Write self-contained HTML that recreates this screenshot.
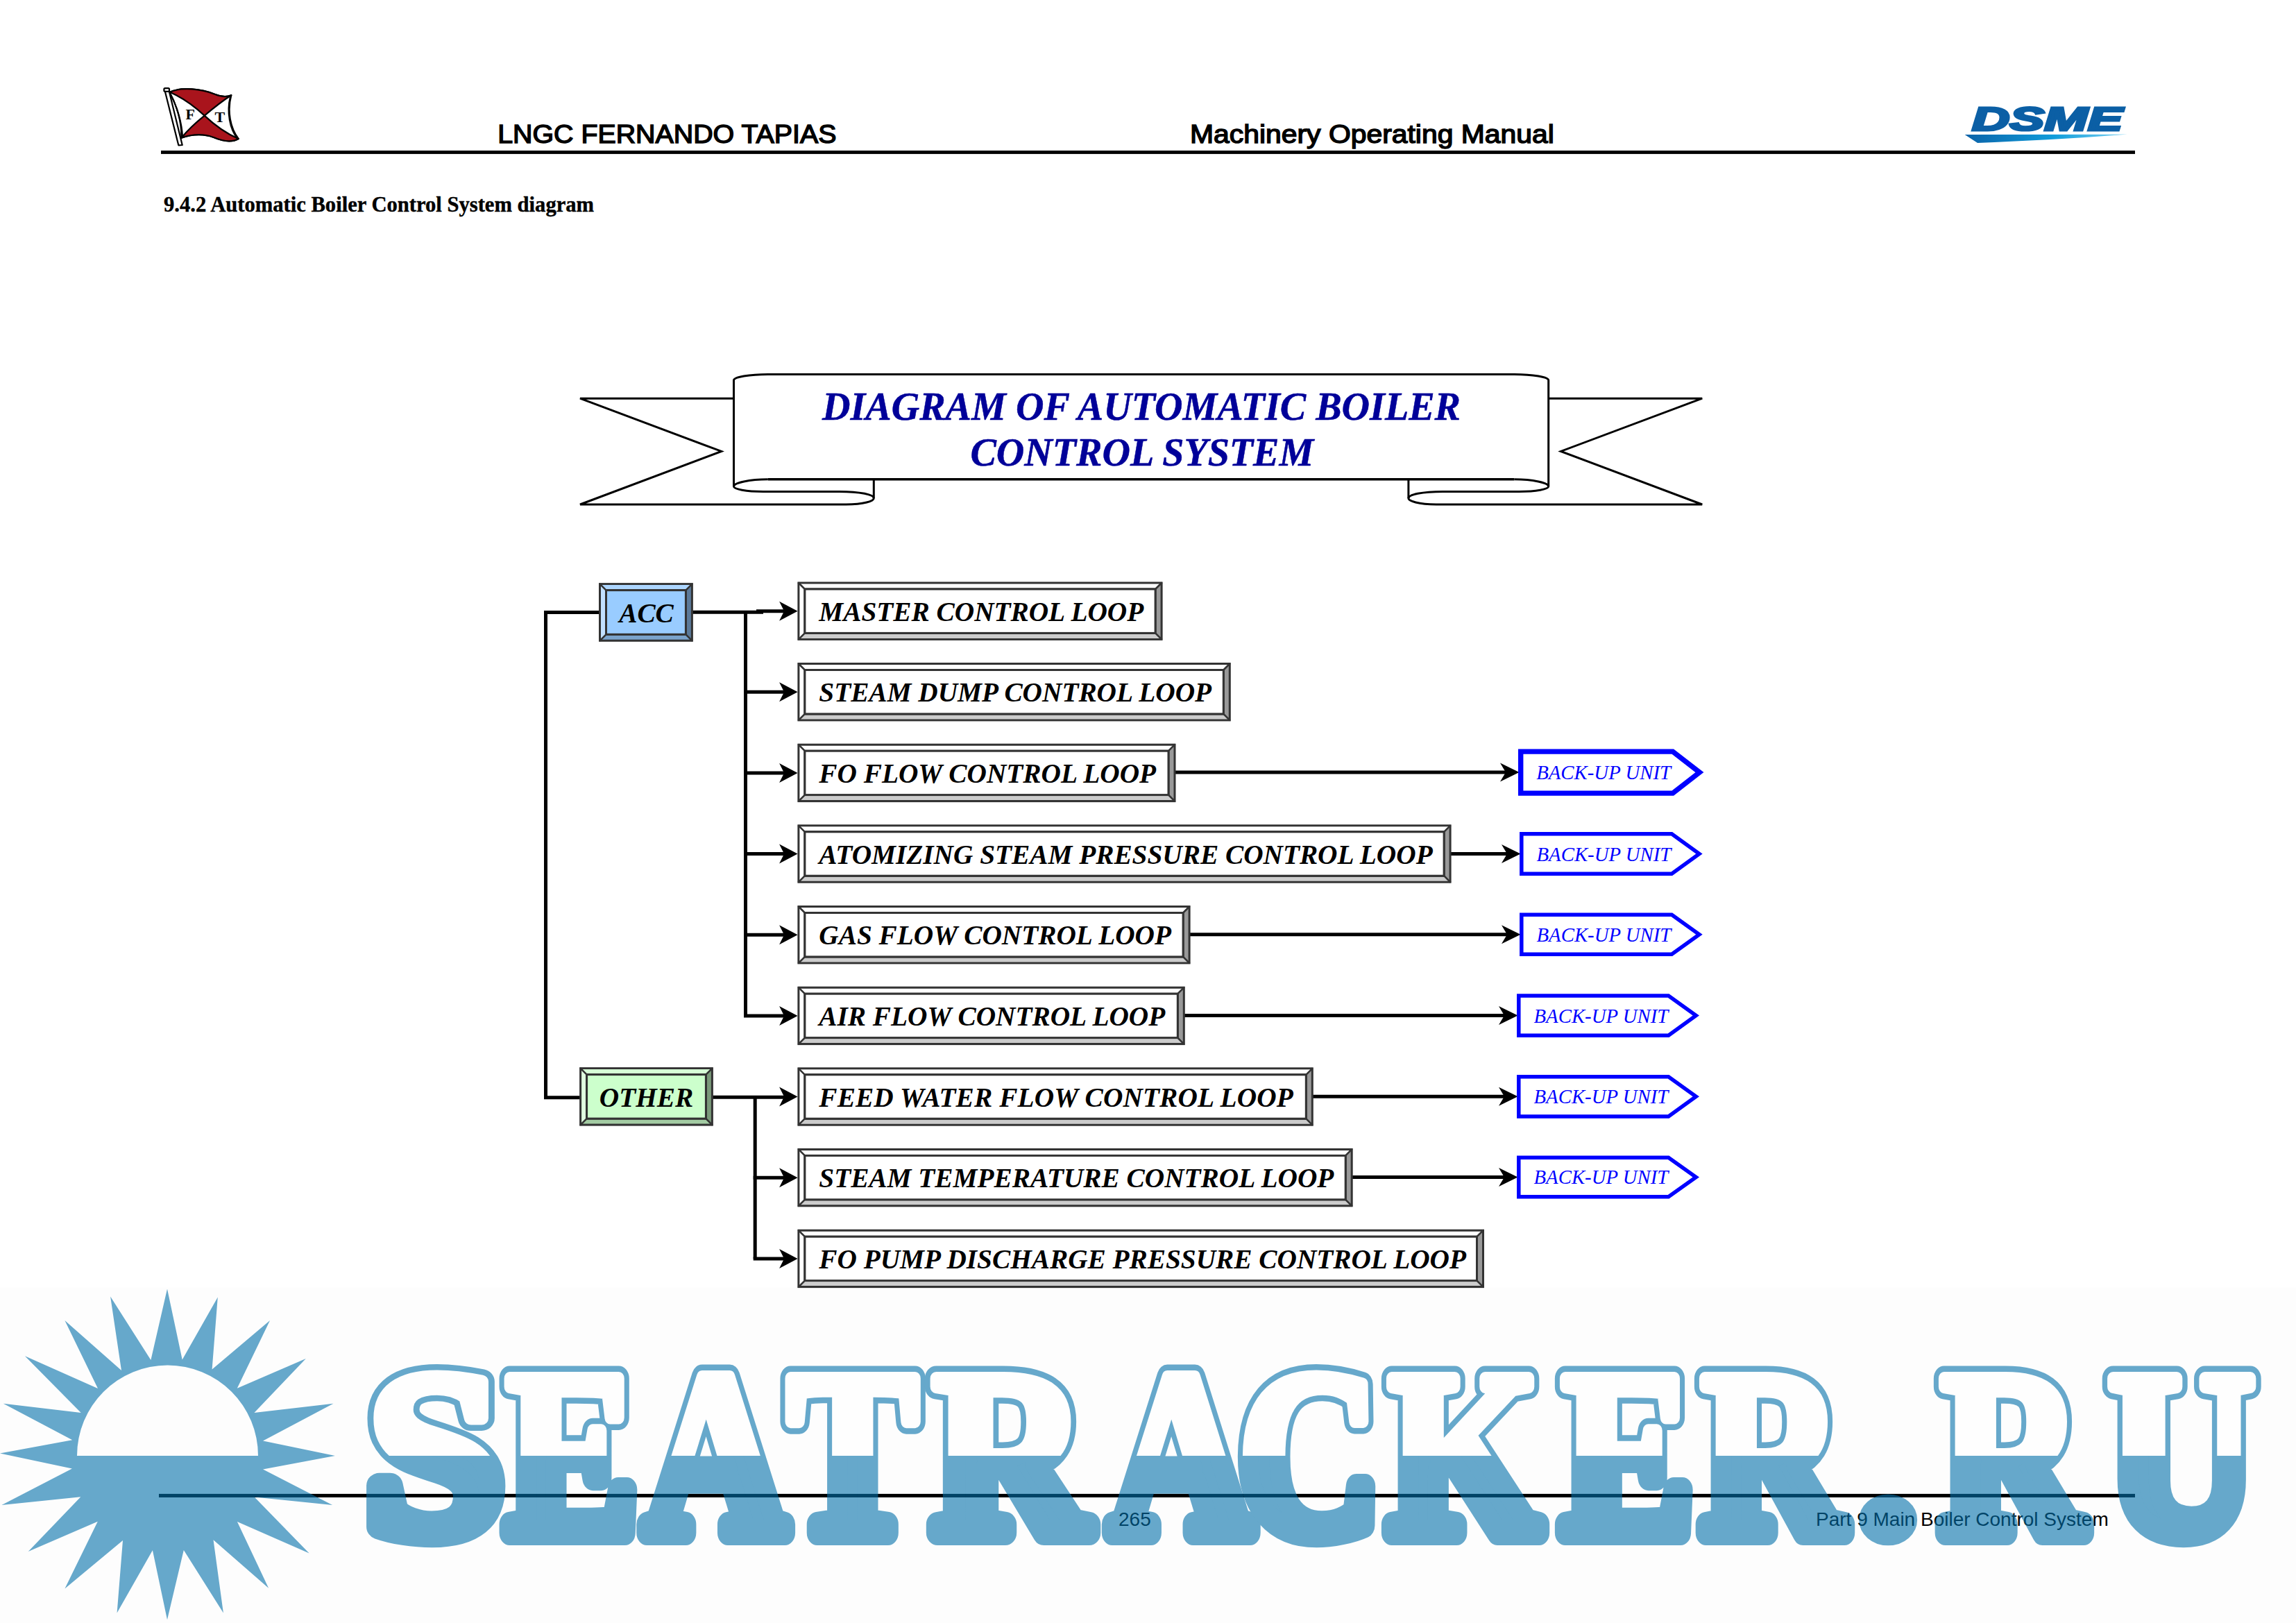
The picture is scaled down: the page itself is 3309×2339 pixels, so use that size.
<!DOCTYPE html>
<html lang="en"><head><meta charset="utf-8"><title>9.4.2 Automatic Boiler Control System diagram</title>
<style>
html,body{margin:0;padding:0;background:#fff}
body{width:3309px;height:2339px;overflow:hidden;position:relative}
svg{position:absolute;left:0;top:0;display:block}
.sans{font-family:"Liberation Sans",Arial,sans-serif}
.serif{font-family:"Liberation Serif","Times New Roman",serif}
.bi{font-family:"Liberation Serif","Times New Roman",serif;font-weight:700;font-style:italic}
.box{font-size:39.3px;fill:#000}
.bu{font-family:"Liberation Serif","Times New Roman",serif;font-style:italic;font-size:28.8px;fill:#0000ff}
.wm{font-family:"Liberation Serif","DejaVu Serif",serif;font-weight:700}
</style></head><body>
<svg width="3309" height="2339" viewBox="0 0 3309 2339">
<defs>
<linearGradient id="swoosh" x1="0" y1="0" x2="1" y2="0">
<stop offset="0" stop-color="#0b62a8"/><stop offset="0.55" stop-color="#0f9ddb"/><stop offset="1" stop-color="#7fd3f3"/>
</linearGradient>
</defs>
<rect x="0" y="0" width="3309" height="2339" fill="#fff"/>
<rect x="0" y="1855.5" width="3309" height="484" fill="#fdfdfd"/>

<g id="header">
<rect x="232" y="217" width="2845" height="4.9" fill="#000"/>
<text class="sans" x="717.2" y="206.4" font-size="37.8" fill="#000" stroke="#000" stroke-width="1.5" textLength="488.2" lengthAdjust="spacingAndGlyphs">LNGC FERNANDO TAPIAS</text>
<text class="sans" x="1715" y="206.4" font-size="37.8" fill="#000" stroke="#000" stroke-width="1.5" textLength="524.8" lengthAdjust="spacingAndGlyphs">Machinery Operating Manual</text>
<text class="serif" x="236" y="305" font-size="30.6" font-weight="700" fill="#000" stroke="#000" stroke-width="0.4">9.4.2 Automatic Boiler Control System diagram</text>
<g id="flag" stroke="#000" stroke-width="2.2" stroke-linejoin="round" fill="#fff">
<path d="M244.4,132.7 C262,125 290,128 310,136 C320,140 327,140 333.3,137.2 C327,160 332,185 343.7,200 C335,205 322,204 308,198 C292,192 275,194 261.4,198.7 C262,175 254,150 244.4,132.7 Z" fill="#fff"/>
<path d="M244.4,132.7 C262,125 290,128 310,136 C320,140 327,140 333.3,137.2 C318,147 306,157 294.7,166.6 C280,153 262,140 244.4,132.7 Z" fill="#a9141c"/>
<path d="M261.4,198.7 C275,194 292,192 308,198 C322,204 335,205 343.7,200 C325,192 309,180 294.7,166.6 C283,176 271,187 261.4,198.7 Z" fill="#a9141c"/>
<path d="M237.9,132 L243.6,131 L262.7,209 L257.3,209.3 Z" fill="#fff"/>
<rect x="236.4" y="127.2" width="7.6" height="4.6" rx="1.5" fill="#fff"/>
<path d="M246,137 C256,155 262,178 263,197" fill="none"/>
<path d="M331.5,139.5 C326,162 331,186 341.5,199.5" fill="none" stroke-width="1.4"/>
</g>
<text class="serif" x="267.6" y="171.9" font-size="22" font-weight="700" fill="#000">F</text>
<text class="serif" x="309.6" y="176.4" font-size="22" font-weight="700" fill="#000">T</text>

<g id="dsme">
<text class="sans" transform="translate(2842,188) scale(1.565,1)" font-size="48" font-weight="700" font-style="italic" fill="#0b5fa5" stroke="#0b5fa5" stroke-width="3.2" stroke-linejoin="miter">DSME</text>
<path d="M2831.7,194 L3066,193.6 C3000,199 2920,203.5 2850,206 Z" fill="url(#swoosh)"/>
</g>
</g>
<g id="banner" fill="none" stroke="#000" stroke-width="3">
<path d="M1057.5,574.2 L836.0,574.2 L1039.7,650.4 L836.0,727 L1219.3,727 C1245.0,727 1259.3,722 1259.3,717.9 C1259.3,713 1240.0,708.4 1209.8,708.4 L1100.0,708.4 C1075.0,708.4 1057.5,705 1057.5,701 C1057.5,696 1080.0,690.8 1106.8,690.8"/>
<path d="M1259.3,690.8 L1259.3,718"/>
<path d="M2231.7,574.2 L2453.2,574.2 L2249.5,650.4 L2453.2,727 L2069.9,727 C2044.2,727 2029.9,722 2029.9,717.9 C2029.9,713 2049.2,708.4 2079.4,708.4 L2189.2,708.4 C2214.2,708.4 2231.7,705 2231.7,701 C2231.7,696 2209.2,690.8 2182.4,690.8"/>
<path d="M2029.9,690.8 L2029.9,718"/>
<path d="M1057.5,701 L1057.5,548 C1057.5,543.5 1080,539.4 1106.8,539.4 L2182.4,539.4 C2209.2,539.4 2231.7,543.5 2231.7,548 L2231.7,701"/>
<path d="M1106.8,690.8 L2182.4,690.8" stroke-width="3.6"/>
</g>
<text class="bi" x="1645.0" y="604.7" font-size="56.1" fill="#000099" stroke="#000099" stroke-width="0.5" text-anchor="middle">DIAGRAM OF AUTOMATIC BOILER</text>
<text class="bi" x="1645.9" y="671.3" font-size="56.1" fill="#000099" stroke="#000099" stroke-width="0.5" text-anchor="middle">CONTROL SYSTEM</text>
<g id="wires" stroke="#000" stroke-width="5" fill="none" stroke-linecap="butt">
<path d="M866,882.5 L786.5,882.5 L786.5,1581.8 L838,1581.8" stroke-linejoin="miter"/>
<path d="M996,882.3 L1100,882.3"/>
<path d="M1090,880.8 L1130,880.8"/>
<path d="M1074.5,880 L1074.5,1464.0"/>
<path d="M1072,997.3 L1130,997.3"/>
<path d="M1072,1114.0 L1130,1114.0"/>
<path d="M1072,1230.6 L1130,1230.6"/>
<path d="M1072,1347.3 L1130,1347.3"/>
<path d="M1072,1464.0 L1130,1464.0"/>
<path d="M1025,1581.2 L1130,1581.2"/>
<path d="M1088.2,1580.6 L1088.2,1814.0"/>
<path d="M1085.7,1697.2 L1130,1697.2"/>
<path d="M1085.7,1814.0 L1130,1814.0"/>
</g>
<polygon points="1149.6,880.8 1123.1,866.8 1130.1,880.8 1123.1,894.8" fill="#000"/>
<polygon points="1149.6,997.3 1123.1,983.3 1130.1,997.3 1123.1,1011.3" fill="#000"/>
<polygon points="1149.6,1114.0 1123.1,1100.0 1130.1,1114.0 1123.1,1128.0" fill="#000"/>
<polygon points="1149.6,1230.6 1123.1,1216.6 1130.1,1230.6 1123.1,1244.6" fill="#000"/>
<polygon points="1149.6,1347.3 1123.1,1333.3 1130.1,1347.3 1123.1,1361.3" fill="#000"/>
<polygon points="1149.6,1464.0 1123.1,1450.0 1130.1,1464.0 1123.1,1478.0" fill="#000"/>
<polygon points="1149.6,1580.6 1123.1,1566.6 1130.1,1580.6 1123.1,1594.6" fill="#000"/>
<polygon points="1149.6,1697.2 1123.1,1683.2 1130.1,1697.2 1123.1,1711.2" fill="#000"/>
<polygon points="1149.6,1814.0 1123.1,1800.0 1130.1,1814.0 1123.1,1828.0" fill="#000"/>
<path d="M1692.5,1113.1 L2170.0,1113.1" stroke="#000" stroke-width="5" fill="none"/>
<polygon points="2189.5,1113.1 2162.0,1099.6 2170.0,1113.1 2162.0,1126.6" fill="#000"/>
<path d="M2191.7,1083.1 L2410.8,1083.1 L2449.4,1113.1 L2410.8,1143.1 L2191.7,1143.1 Z" fill="#fff" stroke="#0000ff" stroke-width="7.4" stroke-linejoin="miter"/>
<text class="bu" x="2214.2" y="1123.1">BACK-UP UNIT</text>
<path d="M2089.6,1230.5 L2172.0,1230.5" stroke="#000" stroke-width="5" fill="none"/>
<polygon points="2191.5,1230.5 2164.0,1217.0 2172.0,1230.5 2164.0,1244.0" fill="#000"/>
<path d="M2192.8,1201.8 L2409.3,1201.8 L2449.0,1230.5 L2409.3,1259.2 L2192.8,1259.2 Z" fill="#fff" stroke="#0000ff" stroke-width="5.5" stroke-linejoin="miter"/>
<text class="bu" x="2214.5" y="1240.5">BACK-UP UNIT</text>
<path d="M1713.6,1346.8 L2172.0,1346.8" stroke="#000" stroke-width="5" fill="none"/>
<polygon points="2191.5,1346.8 2164.0,1333.2 2172.0,1346.8 2164.0,1360.2" fill="#000"/>
<path d="M2192.8,1318.2 L2409.3,1318.2 L2449.0,1346.8 L2409.3,1375.3 L2192.8,1375.3 Z" fill="#fff" stroke="#0000ff" stroke-width="5.5" stroke-linejoin="miter"/>
<text class="bu" x="2214.5" y="1356.8">BACK-UP UNIT</text>
<path d="M1705.8,1463.6 L2168.0,1463.6" stroke="#000" stroke-width="5" fill="none"/>
<polygon points="2187.5,1463.6 2160.0,1450.1 2168.0,1463.6 2160.0,1477.1" fill="#000"/>
<path d="M2188.8,1435.0 L2404.6,1435.0 L2444.3,1463.6 L2404.6,1492.2 L2188.8,1492.2 Z" fill="#fff" stroke="#0000ff" stroke-width="5.5" stroke-linejoin="miter"/>
<text class="bu" x="2210.5" y="1473.6">BACK-UP UNIT</text>
<path d="M1890.8,1580.3 L2168.0,1580.3" stroke="#000" stroke-width="5" fill="none"/>
<polygon points="2187.5,1580.3 2160.0,1566.8 2168.0,1580.3 2160.0,1593.8" fill="#000"/>
<path d="M2188.8,1551.8 L2404.6,1551.8 L2444.3,1580.3 L2404.6,1609.0 L2188.8,1609.0 Z" fill="#fff" stroke="#0000ff" stroke-width="5.5" stroke-linejoin="miter"/>
<text class="bu" x="2210.5" y="1590.3">BACK-UP UNIT</text>
<path d="M1947.7,1696.4 L2168.0,1696.4" stroke="#000" stroke-width="5" fill="none"/>
<polygon points="2187.5,1696.4 2160.0,1682.9 2168.0,1696.4 2160.0,1709.9" fill="#000"/>
<path d="M2188.8,1668.2 L2404.6,1668.2 L2444.3,1696.4 L2404.6,1724.7 L2188.8,1724.7 Z" fill="#fff" stroke="#0000ff" stroke-width="5.5" stroke-linejoin="miter"/>
<text class="bu" x="2210.5" y="1706.4">BACK-UP UNIT</text>
<rect x="1149.4" y="838.5" width="526.2" height="84.4" fill="#333"/>
<polygon points="1152.4,841.5 1672.6,841.5 1666.6,847.5 1158.4,847.5" fill="#fff"/>
<polygon points="1152.4,841.5 1158.4,847.5 1158.4,913.9 1152.4,919.9" fill="#fff"/>
<polygon points="1672.6,841.5 1672.6,919.9 1666.6,913.9 1666.6,847.5" fill="#999"/>
<polygon points="1152.4,919.9 1158.4,913.9 1666.6,913.9 1672.6,919.9" fill="#ccc"/>
<path d="M1150.4,839.5L1159.4,848.5M1674.6,839.5L1665.6,848.5M1150.4,921.9L1159.4,912.9M1674.6,921.9L1665.6,912.9" stroke="#333" stroke-width="2.6" fill="none"/>
<rect x="1158.4" y="847.5" width="508.2" height="66.4" fill="#333"/>
<rect x="1161.4" y="850.5" width="502.2" height="60.4" fill="#fff"/>
<text class="bi box" x="1180.3" y="894.8">MASTER CONTROL LOOP</text>
<rect x="1149.4" y="955.0" width="624.4" height="84.4" fill="#333"/>
<polygon points="1152.4,958.0 1770.8,958.0 1764.8,964.0 1158.4,964.0" fill="#fff"/>
<polygon points="1152.4,958.0 1158.4,964.0 1158.4,1030.4 1152.4,1036.4" fill="#fff"/>
<polygon points="1770.8,958.0 1770.8,1036.4 1764.8,1030.4 1764.8,964.0" fill="#999"/>
<polygon points="1152.4,1036.4 1158.4,1030.4 1764.8,1030.4 1770.8,1036.4" fill="#ccc"/>
<path d="M1150.4,956.0L1159.4,965.0M1772.8,956.0L1763.8,965.0M1150.4,1038.4L1159.4,1029.4M1772.8,1038.4L1763.8,1029.4" stroke="#333" stroke-width="2.6" fill="none"/>
<rect x="1158.4" y="964.0" width="606.4" height="66.4" fill="#333"/>
<rect x="1161.4" y="967.0" width="600.4" height="60.4" fill="#fff"/>
<text class="bi box" x="1180.3" y="1011.3">STEAM DUMP CONTROL LOOP</text>
<rect x="1149.4" y="1071.7" width="545.1" height="84.4" fill="#333"/>
<polygon points="1152.4,1074.7 1691.5,1074.7 1685.5,1080.7 1158.4,1080.7" fill="#fff"/>
<polygon points="1152.4,1074.7 1158.4,1080.7 1158.4,1147.1 1152.4,1153.1" fill="#fff"/>
<polygon points="1691.5,1074.7 1691.5,1153.1 1685.5,1147.1 1685.5,1080.7" fill="#999"/>
<polygon points="1152.4,1153.1 1158.4,1147.1 1685.5,1147.1 1691.5,1153.1" fill="#ccc"/>
<path d="M1150.4,1072.7L1159.4,1081.7M1693.5,1072.7L1684.5,1081.7M1150.4,1155.1L1159.4,1146.1M1693.5,1155.1L1684.5,1146.1" stroke="#333" stroke-width="2.6" fill="none"/>
<rect x="1158.4" y="1080.7" width="527.1" height="66.4" fill="#333"/>
<rect x="1161.4" y="1083.7" width="521.1" height="60.4" fill="#fff"/>
<text class="bi box" x="1180.3" y="1128.0">FO FLOW CONTROL LOOP</text>
<rect x="1149.4" y="1188.3" width="942.2" height="84.4" fill="#333"/>
<polygon points="1152.4,1191.3 2088.6,1191.3 2082.6,1197.3 1158.4,1197.3" fill="#fff"/>
<polygon points="1152.4,1191.3 1158.4,1197.3 1158.4,1263.7 1152.4,1269.7" fill="#fff"/>
<polygon points="2088.6,1191.3 2088.6,1269.7 2082.6,1263.7 2082.6,1197.3" fill="#999"/>
<polygon points="1152.4,1269.7 1158.4,1263.7 2082.6,1263.7 2088.6,1269.7" fill="#ccc"/>
<path d="M1150.4,1189.3L1159.4,1198.3M2090.6,1189.3L2081.6,1198.3M1150.4,1271.7L1159.4,1262.7M2090.6,1271.7L2081.6,1262.7" stroke="#333" stroke-width="2.6" fill="none"/>
<rect x="1158.4" y="1197.3" width="924.2" height="66.4" fill="#333"/>
<rect x="1161.4" y="1200.3" width="918.2" height="60.4" fill="#fff"/>
<text class="bi box" x="1180.3" y="1244.6">ATOMIZING STEAM PRESSURE CONTROL LOOP</text>
<rect x="1149.4" y="1305.0" width="566.2" height="84.4" fill="#333"/>
<polygon points="1152.4,1308.0 1712.6,1308.0 1706.6,1314.0 1158.4,1314.0" fill="#fff"/>
<polygon points="1152.4,1308.0 1158.4,1314.0 1158.4,1380.4 1152.4,1386.4" fill="#fff"/>
<polygon points="1712.6,1308.0 1712.6,1386.4 1706.6,1380.4 1706.6,1314.0" fill="#999"/>
<polygon points="1152.4,1386.4 1158.4,1380.4 1706.6,1380.4 1712.6,1386.4" fill="#ccc"/>
<path d="M1150.4,1306.0L1159.4,1315.0M1714.6,1306.0L1705.6,1315.0M1150.4,1388.4L1159.4,1379.4M1714.6,1388.4L1705.6,1379.4" stroke="#333" stroke-width="2.6" fill="none"/>
<rect x="1158.4" y="1314.0" width="548.2" height="66.4" fill="#333"/>
<rect x="1161.4" y="1317.0" width="542.2" height="60.4" fill="#fff"/>
<text class="bi box" x="1180.3" y="1361.3">GAS FLOW CONTROL LOOP</text>
<rect x="1149.4" y="1421.7" width="558.4" height="84.4" fill="#333"/>
<polygon points="1152.4,1424.7 1704.8,1424.7 1698.8,1430.7 1158.4,1430.7" fill="#fff"/>
<polygon points="1152.4,1424.7 1158.4,1430.7 1158.4,1497.1 1152.4,1503.1" fill="#fff"/>
<polygon points="1704.8,1424.7 1704.8,1503.1 1698.8,1497.1 1698.8,1430.7" fill="#999"/>
<polygon points="1152.4,1503.1 1158.4,1497.1 1698.8,1497.1 1704.8,1503.1" fill="#ccc"/>
<path d="M1150.4,1422.7L1159.4,1431.7M1706.8,1422.7L1697.8,1431.7M1150.4,1505.1L1159.4,1496.1M1706.8,1505.1L1697.8,1496.1" stroke="#333" stroke-width="2.6" fill="none"/>
<rect x="1158.4" y="1430.7" width="540.4" height="66.4" fill="#333"/>
<rect x="1161.4" y="1433.7" width="534.4" height="60.4" fill="#fff"/>
<text class="bi box" x="1180.3" y="1478.0">AIR FLOW CONTROL LOOP</text>
<rect x="1149.4" y="1538.3" width="743.4" height="84.4" fill="#333"/>
<polygon points="1152.4,1541.3 1889.8,1541.3 1883.8,1547.3 1158.4,1547.3" fill="#fff"/>
<polygon points="1152.4,1541.3 1158.4,1547.3 1158.4,1613.7 1152.4,1619.7" fill="#fff"/>
<polygon points="1889.8,1541.3 1889.8,1619.7 1883.8,1613.7 1883.8,1547.3" fill="#999"/>
<polygon points="1152.4,1619.7 1158.4,1613.7 1883.8,1613.7 1889.8,1619.7" fill="#ccc"/>
<path d="M1150.4,1539.3L1159.4,1548.3M1891.8,1539.3L1882.8,1548.3M1150.4,1621.7L1159.4,1612.7M1891.8,1621.7L1882.8,1612.7" stroke="#333" stroke-width="2.6" fill="none"/>
<rect x="1158.4" y="1547.3" width="725.4" height="66.4" fill="#333"/>
<rect x="1161.4" y="1550.3" width="719.4" height="60.4" fill="#fff"/>
<text class="bi box" x="1180.3" y="1594.6" textLength="683.5">FEED WATER FLOW CONTROL LOOP</text>
<rect x="1149.4" y="1654.9" width="800.3" height="84.4" fill="#333"/>
<polygon points="1152.4,1657.9 1946.7,1657.9 1940.7,1663.9 1158.4,1663.9" fill="#fff"/>
<polygon points="1152.4,1657.9 1158.4,1663.9 1158.4,1730.3 1152.4,1736.3" fill="#fff"/>
<polygon points="1946.7,1657.9 1946.7,1736.3 1940.7,1730.3 1940.7,1663.9" fill="#999"/>
<polygon points="1152.4,1736.3 1158.4,1730.3 1940.7,1730.3 1946.7,1736.3" fill="#ccc"/>
<path d="M1150.4,1655.9L1159.4,1664.9M1948.7,1655.9L1939.7,1664.9M1150.4,1738.3L1159.4,1729.3M1948.7,1738.3L1939.7,1729.3" stroke="#333" stroke-width="2.6" fill="none"/>
<rect x="1158.4" y="1663.9" width="782.3" height="66.4" fill="#333"/>
<rect x="1161.4" y="1666.9" width="776.3" height="60.4" fill="#fff"/>
<text class="bi box" x="1180.3" y="1711.2">STEAM TEMPERATURE CONTROL LOOP</text>
<rect x="1149.4" y="1771.7" width="989.6" height="84.4" fill="#333"/>
<polygon points="1152.4,1774.7 2136.0,1774.7 2130.0,1780.7 1158.4,1780.7" fill="#fff"/>
<polygon points="1152.4,1774.7 1158.4,1780.7 1158.4,1847.1 1152.4,1853.1" fill="#fff"/>
<polygon points="2136.0,1774.7 2136.0,1853.1 2130.0,1847.1 2130.0,1780.7" fill="#999"/>
<polygon points="1152.4,1853.1 1158.4,1847.1 2130.0,1847.1 2136.0,1853.1" fill="#ccc"/>
<path d="M1150.4,1772.7L1159.4,1781.7M2138.0,1772.7L2129.0,1781.7M1150.4,1855.1L1159.4,1846.1M2138.0,1855.1L2129.0,1846.1" stroke="#333" stroke-width="2.6" fill="none"/>
<rect x="1158.4" y="1780.7" width="971.6" height="66.4" fill="#333"/>
<rect x="1161.4" y="1783.7" width="965.6" height="60.4" fill="#fff"/>
<text class="bi box" x="1180.3" y="1828.0">FO PUMP DISCHARGE PRESSURE CONTROL LOOP</text>
<rect x="863" y="840.1" width="135.9" height="84.7" fill="#333"/>
<polygon points="866.0,843.1 995.9,843.1 989.9,849.1 872.0,849.1" fill="#add6ff"/>
<polygon points="866.0,843.1 872.0,849.1 872.0,915.8 866.0,921.8" fill="#c2e0ff"/>
<polygon points="995.9,843.1 995.9,921.8 989.9,915.8 989.9,849.1" fill="#5c7a99"/>
<polygon points="866.0,921.8 872.0,915.8 989.9,915.8 995.9,921.8" fill="#7aa3cc"/>
<path d="M864.0,841.1L873.0,850.1M997.9,841.1L988.9,850.1M864.0,923.8L873.0,914.8M997.9,923.8L988.9,914.8" stroke="#333" stroke-width="2.6" fill="none"/>
<rect x="872.0" y="849.1" width="117.9" height="66.7" fill="#333"/>
<rect x="875.0" y="852.1" width="111.9" height="60.7" fill="#99ccff"/>
<text class="bi box" x="931.5" y="896.9" text-anchor="middle">ACC</text>
<rect x="835.1" y="1538.1" width="192.8" height="84.5" fill="#333"/>
<polygon points="838.1,1541.1 1024.9,1541.1 1018.9,1547.1 844.1,1547.1" fill="#d6ffd6"/>
<polygon points="838.1,1541.1 844.1,1547.1 844.1,1613.6 838.1,1619.6" fill="#e0ffe0"/>
<polygon points="1024.9,1541.1 1024.9,1619.6 1018.9,1613.6 1018.9,1547.1" fill="#7a997a"/>
<polygon points="838.1,1619.6 844.1,1613.6 1018.9,1613.6 1024.9,1619.6" fill="#a3cca3"/>
<path d="M836.1,1539.1L845.1,1548.1M1026.9,1539.1L1017.9,1548.1M836.1,1621.6L845.1,1612.6M1026.9,1621.6L1017.9,1612.6" stroke="#333" stroke-width="2.6" fill="none"/>
<rect x="844.1" y="1547.1" width="174.8" height="66.5" fill="#333"/>
<rect x="847.1" y="1550.1" width="168.8" height="60.5" fill="#ccffcc"/>
<text class="bi box" x="931.5" y="1595" text-anchor="middle">OTHER</text>
<rect x="229" y="2152.9" width="2848" height="5.1" fill="#000"/>
<text class="sans" x="1612" y="2198.8" font-size="28" fill="#000">265</text>
<text class="sans" x="2617" y="2199" font-size="28" fill="#000">Part 9 Main Boiler Control System</text>
<g id="watermark" opacity="0.6">
<path d="M241.0,1857.5 L217.4,1960.1 L159.1,1868.5 L175.0,1975.0 L93.4,1903.0 L141.0,2001.0 L35.9,1954.3 L116.7,2035.9 L4.8,2022.8 L104.2,2075.3 L0.0,2094.6 L103.9,2116.6 L2.4,2168.9 L116.3,2157.3 L40.7,2236.0 L140.8,2192.8 L93.4,2289.6 L177.0,2220.1 L168.6,2324.6 L219.9,2234.3 L241.0,2334.2 L264.8,2234.0 L321.9,2324.6 L307.5,2219.3 L387.1,2288.7 L341.9,2193.1 L445.6,2238.4 L366.7,2157.4 L479.1,2168.9 L379.0,2117.6 L482.9,2098.0 L379.0,2076.4 L480.5,2022.8 L366.4,2035.9 L440.8,1958.1 L341.8,2000.8 L389.0,1903.0 L305.6,1973.6 L313.8,1869.5 L262.7,1959.6 Z M111.0,2098 L372.0,2098 A130.5,130.5 0 0 0 111.0,2098 Z" fill="#0270aa" fill-rule="evenodd"/>
<clipPath id="wtop"><rect x="-100" y="-400" width="4000" height="289.0"/></clipPath>
<clipPath id="wbot"><rect x="-100" y="-111.0" width="4000" height="400"/></clipPath>
<text class="wm" clip-path="url(#wbot)" transform="translate(525.5,2209) scale(0.83,1)" font-size="340" fill="#0270aa" stroke="#0270aa" stroke-width="36" stroke-linejoin="round" vector-effect="non-scaling-stroke"><tspan x="3.0" textLength="237" lengthAdjust="spacingAndGlyphs">S</tspan><tspan x="246.0 486.7 734.3">EAT</tspan><tspan x="986.1" textLength="269" lengthAdjust="spacingAndGlyphs">R</tspan><tspan x="1294.6 1517.5 1777.7 2078.9 2321.1">ACKER</tspan><tspan x="2605.4" dy="-3" font-size="234" textLength="80" lengthAdjust="spacingAndGlyphs">.</tspan><tspan dy="3" x="2736.7">R</tspan><tspan x="3027.1" textLength="256" lengthAdjust="spacingAndGlyphs">U</tspan></text>
<text class="wm" clip-path="url(#wtop)" transform="translate(525.5,2209) scale(0.83,1)" font-size="340" fill="#0270aa" stroke="#0270aa" stroke-width="36" stroke-linejoin="round" vector-effect="non-scaling-stroke"><tspan x="3.0" textLength="237" lengthAdjust="spacingAndGlyphs">S</tspan><tspan x="246.0 486.7 734.3">EAT</tspan><tspan x="986.1" textLength="269" lengthAdjust="spacingAndGlyphs">R</tspan><tspan x="1294.6 1517.5 1777.7 2078.9 2321.1">ACKER</tspan><tspan x="2605.4" dy="-3" font-size="234" textLength="80" lengthAdjust="spacingAndGlyphs">.</tspan><tspan dy="3" x="2736.7">R</tspan><tspan x="3027.1" textLength="256" lengthAdjust="spacingAndGlyphs">U</tspan></text>
<text class="wm" clip-path="url(#wtop)" transform="translate(525.5,2209) scale(0.83,1)" font-size="340" fill="#ffffff" stroke="#ffffff" stroke-width="19.0" stroke-linejoin="round" vector-effect="non-scaling-stroke"><tspan x="3.0" textLength="237" lengthAdjust="spacingAndGlyphs">S</tspan><tspan x="246.0 486.7 734.3">EAT</tspan><tspan x="986.1" textLength="269" lengthAdjust="spacingAndGlyphs">R</tspan><tspan x="1294.6 1517.5 1777.7 2078.9 2321.1">ACKER</tspan><tspan x="2605.4" dy="-3" font-size="234" textLength="80" lengthAdjust="spacingAndGlyphs">.</tspan><tspan dy="3" x="2736.7">R</tspan><tspan x="3027.1" textLength="256" lengthAdjust="spacingAndGlyphs">U</tspan></text>
</g>
</svg>
</body></html>
